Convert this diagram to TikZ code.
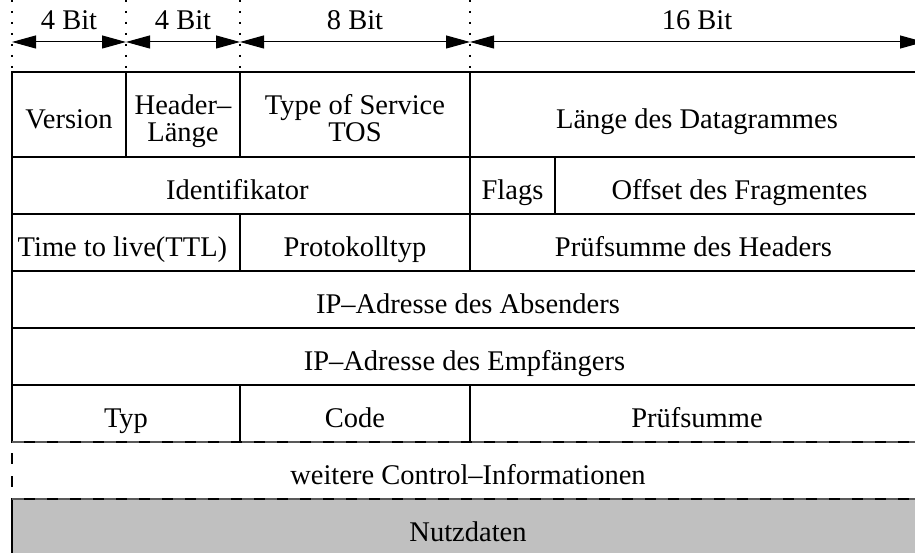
\documentclass[tikz,border=0pt]{standalone}
\usepackage{fontspec}
\setmainfont{Liberation Serif}
\usetikzlibrary{arrows.meta}
\definecolor{grau}{RGB}{192,192,192}

\begin{document}
\begin{tikzpicture}
      [x=1pt,y=-1pt
      ,feld/.style={draw,line width=1.3pt,anchor=north west,inner sep=0pt,outer sep=0pt}
      ,txt/.style={anchor=base,inner sep=0pt,align=center,font=\fontsize{28.5}{27}\selectfont}
      ,mass/.style={{Triangle[length=24pt,width=13pt]}-{Triangle[length=24pt,width=13pt]},line width=1pt}
      ,punkt/.style={line width=1.3pt,dash pattern=on 2pt off 9pt}
      ,strich/.style={line width=1.3pt,color=black!65,dash pattern=on 12pt off 11pt}
      ]
        \useasboundingbox (0,0) rectangle (915,553);
        % Bitbreiten oben
        \foreach \x/\n in {12/a,126/b,240/c,470/d}{
          \draw[punkt] (\x,0) -- (\x,72);
          \coordinate (\n) at (\x,42);
        }
        \coordinate (e) at (924,42);
        \draw[mass] (a) -- node[txt,yshift=12pt] (bit1) {4 Bit} (b);
        \draw[mass] (b) -- node[txt,yshift=12pt] (bit2) {4 Bit} (c);
        \draw[mass] (c) -- node[txt,yshift=12pt] (bit3) {8 Bit} (d);
        \draw[mass] (d) -- node[txt,yshift=12pt] (bit4) {16 Bit} (e);
        % Zeile 1
        \node[feld,minimum width=114pt,minimum height=85pt] (version) at (12,72) {};
        \node[feld,minimum width=114pt,minimum height=85pt] (hlaenge) at (126,72) {};
        \node[feld,minimum width=230pt,minimum height=85pt] (tos) at (240,72) {};
        \node[feld,minimum width=454pt,minimum height=85pt] (laenge) at (470,72) {};
        % Zeile 2
        \node[feld,minimum width=458pt,minimum height=57pt] (ident) at (12,157) {};
        \node[feld,minimum width=85pt,minimum height=57pt] (flags) at (470,157) {};
        \node[feld,minimum width=369pt,minimum height=57pt] (offset) at (555,157) {};
        % Zeile 3
        \node[feld,minimum width=228pt,minimum height=57pt] (ttl) at (12,214) {};
        \node[feld,minimum width=230pt,minimum height=57pt] (proto) at (240,214) {};
        \node[feld,minimum width=454pt,minimum height=57pt] (hpruef) at (470,214) {};
        % Zeile 4 und 5
        \node[feld,minimum width=912pt,minimum height=57pt] (absender) at (12,271) {};
        \node[feld,minimum width=912pt,minimum height=57pt] (empf) at (12,328) {};
        % Zeile 6
        \node[feld,minimum width=228pt,minimum height=57pt] (typ) at (12,385) {};
        \node[feld,minimum width=230pt,minimum height=57pt] (code) at (240,385) {};
        \node[feld,minimum width=454pt,minimum height=57pt] (pruef) at (470,385) {};
        \draw[strich] (typ.south west) -- (pruef.south east);
        % Beschriftung der Felder
        \foreach \n/\t in {version/Version,laenge/Länge des Datagrammes,ident/Identifikator
                          ,flags/Flags,offset/Offset des Fragmentes,ttl/Time to live(TTL)
                          ,proto/Protokolltyp,hpruef/Prüfsumme des Headers
                          ,absender/IP–Adresse des Absenders,empf/IP–Adresse des Empfängers
                          ,typ/Typ,code/Code,pruef/Prüfsumme}{
          \node[txt] (\n-t) at ([yshift=-14pt]\n.center) {\t};
        }
        \node[txt] (hlaenge-t) at ([yshift=-27.5pt]hlaenge.center) {Header–\\Länge};
        \node[txt] (tos-t) at ([yshift=-27.5pt]tos.center) {Type of Service\\TOS};
        % weitere Felder
        \draw[line width=1.3pt,dash pattern=on 11pt off 12pt] (12,453) -- (12,488);
        \node[txt] (ctrl) at (468,484.5) {weitere Control–Informationen};
        \draw[line width=1.3pt,fill=grau] (12,499) rectangle (930,570);
        \draw[strich] (12,499) -- (930,499);
        \node[txt] (nutz) at (468,541.5) {Nutzdaten};
      \end{tikzpicture}
\end{document}
